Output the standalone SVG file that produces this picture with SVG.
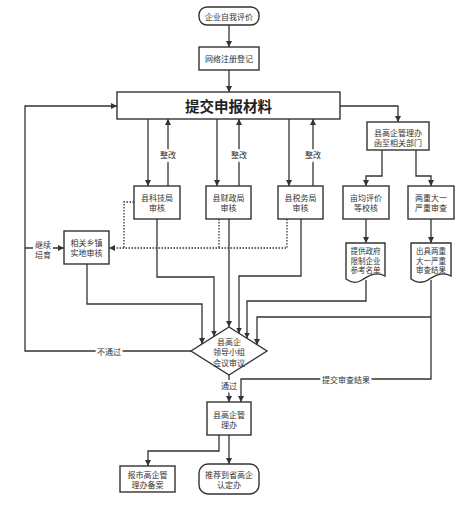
<svg xmlns="http://www.w3.org/2000/svg" width="475" height="506" viewBox="0 0 475 506">
<defs>
<marker id="ah" viewBox="0 0 10 10" refX="10" refY="5" markerWidth="6" markerHeight="6" markerUnits="userSpaceOnUse" orient="auto">
<path d="M0,0 L10,5 L0,10 Z" fill="#333"/>
</marker>
<style>
.n{fill:#fff;stroke:#333;stroke-width:1.4}
.t{font-family:"Noto Sans CJK SC","Noto Sans",sans-serif;font-size:8px;fill:#333;text-anchor:middle;dominant-baseline:central}
.s{font-size:7.5px}
.big{font-size:14.5px;font-weight:bold;fill:#222}
.c{fill:none;stroke:#333;stroke-width:1.3}
.a{marker-end:url(#ah)}
.d{stroke-dasharray:1.5 1.5}
.lb{font-family:"Noto Sans CJK SC","Noto Sans",sans-serif;font-size:8px;fill:#333;text-anchor:middle;dominant-baseline:central;stroke:#fff;stroke-width:4;paint-order:stroke}
</style>
</defs>
<rect width="475" height="506" fill="#fff"/>
<g id="connectors">
<path class="c a" d="M229,25 V47"/>
<path class="c a" d="M229,70 V92"/>
<path class="c a" d="M340,106 H398 V122"/>
<path class="c a" d="M148,119 V186"/>
<path class="c a" d="M168,186 V119"/>
<path class="c a" d="M217,119 V186"/>
<path class="c a" d="M239,186 V119"/>
<path class="c a" d="M289,119 V186"/>
<path class="c a" d="M313,186 V119"/>
<path class="c a" d="M382,150 V176 H366 V186"/>
<path class="c a" d="M416,150 V176 H431 V186"/>
<path class="c a" d="M366,219 V243"/>
<path class="c a" d="M431,219 V243"/>
<path class="c a" d="M157,219 V277 H214 V336.5"/>
<path class="c a" d="M87,264 V304 H202 V344"/>
<path class="c a" d="M229,219 V327"/>
<path class="c a" d="M301,219 V276 H239 V333.5"/>
<path class="c a" d="M366,280 V301 H247 V338.5"/>
<path class="c a" d="M431,280 V379 H241 V402"/>
<path class="c a" d="M431,317 H257 V345"/>
<path class="c a" d="M192,351 H25 V106 H117"/>
<path class="c a" d="M25,248 H64"/>
<path class="c a" d="M229,374 V402"/>
<path class="c a" d="M219,435 V451 H148 V466"/>
<path class="c a" d="M229,435 V464"/>
<path class="c d" d="M134,202 H124 V248"/>
<path class="c d" d="M219,219 V248"/>
<path class="c d a" d="M287,219 V248 H109"/>
<text class="lb" x="168" y="154">整改</text>
<text class="lb" x="239" y="154">整改</text>
<text class="lb" x="313" y="154">整改</text>
<text class="lb" x="109" y="351">不通过</text>
<text class="lb" x="229" y="385">通过</text>
<text class="lb" x="346" y="379">提交审查结果</text>
<rect x="33" y="238" width="20" height="22" fill="#fff"/>
<text class="t" x="43" y="244">继续</text>
<text class="t" x="43" y="254">培育</text>
</g>
<g id="n1"><rect class="n" x="199" y="7" width="60" height="18" rx="8"/><text class="t" x="229" y="16">企业自我评价</text></g>
<g id="n2"><rect class="n" x="199" y="47" width="60" height="23"/><text class="t" x="229" y="58.5">网络注册登记</text></g>
<g id="n3"><rect class="n" x="117" y="92" width="223" height="27"/><text class="t big" x="228.5" y="105.5">提交申报材料</text></g>
<g id="n4"><rect class="n" x="367" y="122" width="62" height="28"/><text class="t" x="398" y="132">县高企管理办</text><text class="t" x="398" y="142">函至相关部门</text></g>
<g id="n5"><rect class="n" x="134" y="186" width="46" height="33"/><text class="t" x="157" y="197.5">县科技局</text><text class="t" x="157" y="207.5">审核</text></g>
<g id="n6"><rect class="n" x="206" y="186" width="45" height="33"/><text class="t" x="228.5" y="197.5">县财政局</text><text class="t" x="228.5" y="207.5">审核</text></g>
<g id="n7"><rect class="n" x="278" y="186" width="45" height="33"/><text class="t" x="300.5" y="197.5">县税务局</text><text class="t" x="300.5" y="207.5">审核</text></g>
<g id="n8"><rect class="n" x="343" y="186" width="46" height="33"/><text class="t" x="366" y="197.5">亩均评价</text><text class="t" x="366" y="207.5">等校核</text></g>
<g id="n9"><rect class="n" x="408" y="186" width="46" height="33"/><text class="t" x="431" y="197.5">两重大一</text><text class="t" x="431" y="207.5">严重审查</text></g>
<g id="n10"><path class="n" d="M346,243 H385 V276 C376,271 368,276 362,280 C356,284 350,282 346,279 Z"/><text class="t s" x="365.5" y="250.5">提供政府</text><text class="t s" x="365.5" y="260">限制企业</text><text class="t s" x="365.5" y="269.5">参考名单</text></g>
<g id="n11"><path class="n" d="M411,243 H451 V276 C442,271 434,276 428,280 C422,284 415,282 411,279 Z"/><text class="t s" x="431" y="250.5">出具两重</text><text class="t s" x="431" y="260">大一严重</text><text class="t s" x="431" y="269.5">审查结果</text></g>
<g id="n12"><rect class="n" x="64" y="231" width="45" height="33"/><text class="t" x="86.5" y="242.5">相关乡镇</text><text class="t" x="86.5" y="252.5">实地审核</text></g>
<g id="n13"><path class="n" d="M229,327 L267,351 L229,375 L191,351 Z"/><text class="t" x="229" y="341">县高企</text><text class="t" x="229" y="351.5">领导小组</text><text class="t" x="229" y="362">会议审议</text></g>
<g id="n14"><rect class="n" x="207" y="402" width="44" height="33"/><text class="t" x="229" y="414.5">县高企管</text><text class="t" x="229" y="424.5">理办</text></g>
<g id="n15"><rect class="n" x="120" y="466" width="55" height="26"/><text class="t" x="147.5" y="474.5">报市高企管</text><text class="t" x="147.5" y="484">理办备案</text></g>
<g id="n16"><rect class="n" x="199" y="464" width="60" height="30" rx="9"/><text class="t" x="229" y="474.5">推荐到省高企</text><text class="t" x="229" y="484">认定办</text></g>
</svg>
